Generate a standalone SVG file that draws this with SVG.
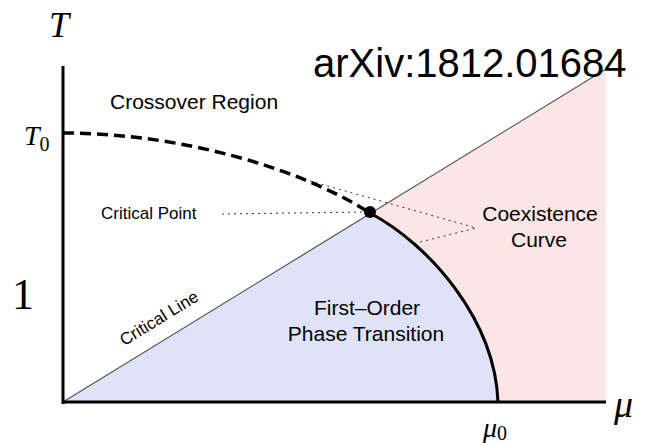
<svg xmlns="http://www.w3.org/2000/svg" width="660" height="443" viewBox="0 0 660 443">
<style>
.s{font-family:"Liberation Sans",Arial,sans-serif;fill:#000}
.m{font-family:"Liberation Serif","Times New Roman",serif;fill:#000}
.dot{fill:none;stroke:#333;stroke-width:1;stroke-dasharray:2 4}
</style>
<rect width="660" height="443" fill="#fff"/>
<g id="regions">
<path id="pink" d="M370,213 L606,69 L606,402 L498,402 C495,320 430,245 370,213 Z" fill="#fce5e5"/>
<path id="blue" d="M63,402 L370,213 C430,245 495,320 498,402 Z" fill="#dfe2f8"/>
</g>
<g id="connectors">
<line x1="63" y1="402" x2="606" y2="69" stroke="#555" stroke-width="1.2"/>
<path d="M63,133 C180,133 300,168 370,213" fill="none" stroke="#000" stroke-width="3.5" stroke-dasharray="11 6"/>
<path d="M370,213 C430,245 495,320 498,402" fill="none" stroke="#000" stroke-width="3"/>
<line class="dot" x1="222" y1="214" x2="366" y2="212"/>
<polyline class="dot" points="310,181 476,228 420,242"/>
</g>
<g id="axes">
<line x1="63" y1="66" x2="63" y2="404" stroke="#000" stroke-width="3"/>
<line x1="62" y1="402" x2="606" y2="402" stroke="#000" stroke-width="3"/>
<line x1="63" y1="133" x2="70" y2="133" stroke="#000" stroke-width="2"/>
</g>
<g id="critical-point"><circle cx="370" cy="212" r="6" fill="#000"/></g>
<g id="labels">
<text class="m" x="49" y="37" font-size="36" font-style="italic">T</text>
<text class="m" x="24" y="145" font-size="28" font-style="italic">T<tspan font-size="20" font-style="normal" dy="6">0</tspan></text>
<text class="m" x="12" y="309" font-size="44">1</text>
<text class="m" x="614" y="417" font-size="38" font-style="italic">μ</text>
<text class="m" x="483" y="437" font-size="28" font-style="italic">μ<tspan font-size="20" font-style="normal" dy="3">0</tspan></text>
<text class="s" x="313" y="77" font-size="40">arXiv:1812.01684</text>
<text class="s" x="110" y="109" font-size="21">Crossover Region</text>
<text class="s" x="101" y="219" font-size="17">Critical Point</text>
<text class="s" x="540" y="221" font-size="21" text-anchor="middle">Coexistence</text>
<text class="s" x="539" y="247" font-size="21" text-anchor="middle">Curve</text>
<text class="s" x="367" y="315" font-size="21" text-anchor="middle">First–Order</text>
<text class="s" x="366" y="341" font-size="21" text-anchor="middle">Phase Transition</text>
<text class="s" x="162" y="323" font-size="17" text-anchor="middle" transform="rotate(-31.5 162 323)">Critical Line</text>
</g>
</svg>
